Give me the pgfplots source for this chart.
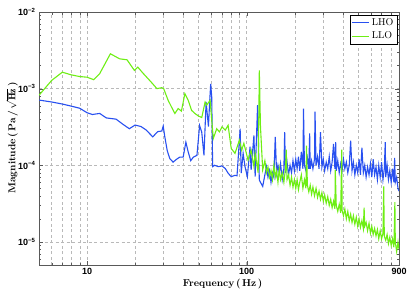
\documentclass[border=0pt]{standalone}
\usepackage{fontspec}
\usepackage{pgfplots}
\pgfplotsset{compat=1.18}
\newfontfamily\tickfont{Liberation Sans}
\definecolor{lho}{RGB}{40,80,240}
\definecolor{llo}{RGB}{110,238,20}
\begin{document}
\begin{tikzpicture}
\path[use as bounding box] (-39pt,-28pt) rectangle (372pt,265pt);
\begin{axis}[
  at={(0pt,0pt)}, anchor=south west,
  width=360pt, height=253pt, scale only axis,
  xmode=log, ymode=log,
  xmin=5, xmax=900, ymin=5e-6, ymax=1e-2,
  xtick={10,100,900}, xticklabels={10,100,900},
  minor xtick={6,7,8,9,20,30,40,50,60,70,80,90,200,300,400,500,600,700,800},
  ytick={1e-5,1e-4,1e-3,1e-2},
  yticklabels={10\textsuperscript{−5},10\textsuperscript{−4},10\textsuperscript{−3},10\textsuperscript{−2}},
  minor ytick={6e-6,7e-6,8e-6,9e-6,2e-5,3e-5,4e-5,5e-5,6e-5,7e-5,8e-5,9e-5,2e-4,3e-4,4e-4,5e-4,6e-4,7e-4,8e-4,9e-4,2e-3,3e-3,4e-3,5e-3,6e-3,7e-3,8e-3,9e-3},
  tick label style={font=\tickfont\bfseries\small},
  xmajorgrids, xminorgrids, ymajorgrids,
  grid style={gray!55, dash pattern=on 3pt off 2.5pt, line width=0.4pt},
  minor grid style={gray!55, dash pattern=on 3pt off 2.5pt, line width=0.4pt},
  axis line style={black!65},
  tick style={black!65},
  major tick length=4pt, minor tick length=2.5pt,
  xlabel style={at={(axis description cs:0.51,0)}, yshift=-19pt, anchor=center},
  xlabel={\textbf{Frequency\,(\,Hz\,)}},
  legend style={at={(0.995,0.99)}, anchor=north east, draw=black, fill=white, inner sep=1.5pt, row sep=1pt},
  legend cell align=left,
]
\addplot[lho, line width=1.1pt] table {
x y
5 7.1e-4
6 6.7e-4
7 6.3e-4
8 5.9e-4
9 5.55e-4
10 4.85e-4
10.8 4.6e-4
12 4.75e-4
13.2 4.15e-4
15.2 4.0e-4
16.7 3.45e-4
18.4 3.0e-4
20 3.35e-4
21.8 3.2e-4
23.4 2.9e-4
25.8 2.35e-4
27.7 2.75e-4
29.4 2.8e-4
30 3.25e-4
30.7 2.35e-4
31.8 1.55e-4
33 1.22e-4
34.6 1.1e-4
36.4 1.2e-4
38.1 1.28e-4
40 1.28e-4
41.6 2.0e-4
43 1.5e-4
44.6 1.15e-4
46.4 1.28e-4
48.8 1.35e-4
50.7 3.3e-4
52.3 2.7e-4
54 1.35e-4
55.7 6.7e-4
57.6 3.2e-4
58.7 7.0e-4
59.5 1.15e-3
60.4 7.8e-4
61.2 9.6e-5
63 1.0e-4
66.4 9.6e-5
70 9.8e-5
73.4 9.1e-5
76.5 7.9e-5
80 7.1e-5
84.5 7.4e-5
87 7.3e-5
91 3.0e-4
92.4 7.9e-5
95 1.43e-4
97.6 9.6e-5
101 7.1e-5
105 1.75e-4
106.6 8.7e-5
111 2.45e-4
113 7.1e-5
117 6.1e-4
120 6.4e-5
126 5.3e-5
130 7.5e-5
133 9.6e-5
136 7e-5
139 8.5e-5
142 6.0e-5
145 8e-5
148 7e-5
151 2.35e-4
154 7.9e-5
157 1.0e-4
160 8e-5
163 1.05e-4
167 6.5e-5
171 9e-5
173 2.7e-4
175 8e-5
179 1.1e-4
183 7.5e-5
187 1.0e-4
191 8e-5
195 1.15e-4
199 8.5e-5
203 1.2e-4
207 9e-5
211 1.3e-4
215 8.5e-5
220 1.5e-4
225 9e-5
227 5.5e-4
230 1.0e-4
235 8.5e-5
240 1.25e-4
245 9e-5
248 2.6e-4
250 9e-5
255 1.15e-4
260 9e-5
266 1.2e-4
268 5.0e-4
272 1.0e-4
278 1.3e-4
284 9e-5
290 2.7e-4
296 9.5e-5
302 1.2e-4
308 8.5e-5
315 1.1e-4
322 9e-5
329 1.3e-4
336 8.5e-5
343 1.1e-4
350 1.9e-4
357 9e-5
361 2.0e-4
364 8.5e-5
372 1.15e-4
380 8e-5
388 1.05e-4
396 8.5e-5
404 1.2e-4
412 9e-5
421 1.1e-4
430 8e-5
439 1.0e-4
448 2.1e-4
457 8.5e-5
466 1.1e-4
476 7.5e-5
486 1.0e-4
496 8e-5
506 1.2e-4
516 7.5e-5
527 1.7e-4
538 8e-5
549 1.0e-4
560 7e-5
572 9.5e-5
584 7.5e-5
596 1.05e-4
608 7e-5
620 1.2e-4
633 7.5e-5
646 9.5e-5
659 6.5e-5
672 1.0e-4
686 7e-5
700 1.1e-4
714 6.5e-5
728 9e-5
738 2.0e-4
743 7e-5
758 1.0e-4
773 6.5e-5
788 8.5e-5
804 6e-5
820 9e-5
836 6e-5
845 1.25e-4
853 6e-5
870 7e-5
887 5e-5
900 4.6e-5
};
\addlegendentry{LHO}
\addplot[llo, line width=1.1pt] table {
x y
5 8.2e-4
6 1.28e-3
7 1.64e-3
7.9 1.52e-3
8.95 1.44e-3
10 1.41e-3
11 1.31e-3
12 1.57e-3
14 2.85e-3
16 2.45e-3
17.8 2.38e-3
19.8 1.73e-3
20.8 1.91e-3
22.3 1.61e-3
25.2 1.22e-3
27.4 1.0e-3
29.4 1.03e-3
30.2 1.0e-3
32.2 7.05e-4
33.8 5.77e-4
35.5 4.74e-4
37.2 5.5e-4
39 5.1e-4
41 8.6e-4
43 7.05e-4
45.2 5.2e-4
47.4 4.74e-4
49.8 4.4e-4
52.3 4.2e-4
54.9 6.7e-4
56.2 6.1e-4
59 7.05e-4
60.4 3.9e-4
61.8 2.24e-4
64.9 3.0e-4
67.5 2.73e-4
70 3.17e-4
73.4 2.87e-4
76.5 3.33e-4
80 1.66e-4
84.5 1.43e-4
90 2.13e-4
93 1.58e-4
96 1.93e-4
102 1.17e-4
106.6 1.58e-4
111 9.6e-5
113 1.43e-4
118 8e-5
120 1.73e-3
122 3.2e-4
126 8.7e-5
130 1.15e-4
133 8e-5
136 9.5e-5
139 7e-5
142 8.5e-5
145 6.5e-5
148 1.0e-4
151 7e-5
154 8.5e-5
157 6e-5
160 9e-5
163 6.5e-5
167 8e-5
171 6e-5
175 9e-5
177 1.6e-4
179 6.5e-5
183 7.5e-5
187 5.5e-5
191 7e-5
195 5.2e-5
199 6.5e-5
203 5e-5
207 6.5e-5
211 4.8e-5
215 6e-5
220 7.5e-5
225 5e-5
230 6.5e-5
235 5e-5
237 1.8e-4
240 5.5e-5
245 4.5e-5
250 5.5e-5
255 4.2e-5
260 5.2e-5
266 4e-5
272 5e-5
278 3.8e-5
284 4.6e-5
290 3.6e-5
296 4.4e-5
302 3.4e-5
308 4.1e-5
315 3.2e-5
322 3.9e-5
329 3.0e-5
336 3.6e-5
343 2.8e-5
350 3.4e-5
357 2.7e-5
359 8.7e-5
364 3.0e-5
372 2.5e-5
380 3.1e-5
388 2.4e-5
394 1.6e-4
396 2.6e-5
404 2.2e-5
412 2.7e-5
421 2.0e-5
430 2.5e-5
439 1.9e-5
448 2.3e-5
457 1.8e-5
466 2.2e-5
476 1.7e-5
486 2.1e-5
496 1.6e-5
506 2.0e-5
516 1.55e-5
527 1.9e-5
538 1.5e-5
544 2.8e-5
549 1.6e-5
560 1.8e-5
572 1.4e-5
584 1.75e-5
596 1.3e-5
608 1.6e-5
620 1.25e-5
633 1.5e-5
646 1.2e-5
659 1.45e-5
672 1.1e-5
686 1.4e-5
700 1.1e-5
714 1.3e-5
722 5.3e-5
728 1.2e-5
743 1.05e-5
758 1.25e-5
773 9.5e-6
788 1.15e-5
804 9e-6
820 1.1e-5
836 8.5e-6
848 3.3e-5
853 1.0e-5
870 7.5e-6
887 1.0e-5
900 8e-6
};
\addlegendentry{LLO}
\end{axis}
\node[rotate=90, anchor=center, inner sep=0pt] at (-27pt,127pt) {\textbf{Magnitude\,(\,Pa\,/\,$\sqrt{\mathbf{Hz}}$\,)}};
\end{tikzpicture}
\end{document}
